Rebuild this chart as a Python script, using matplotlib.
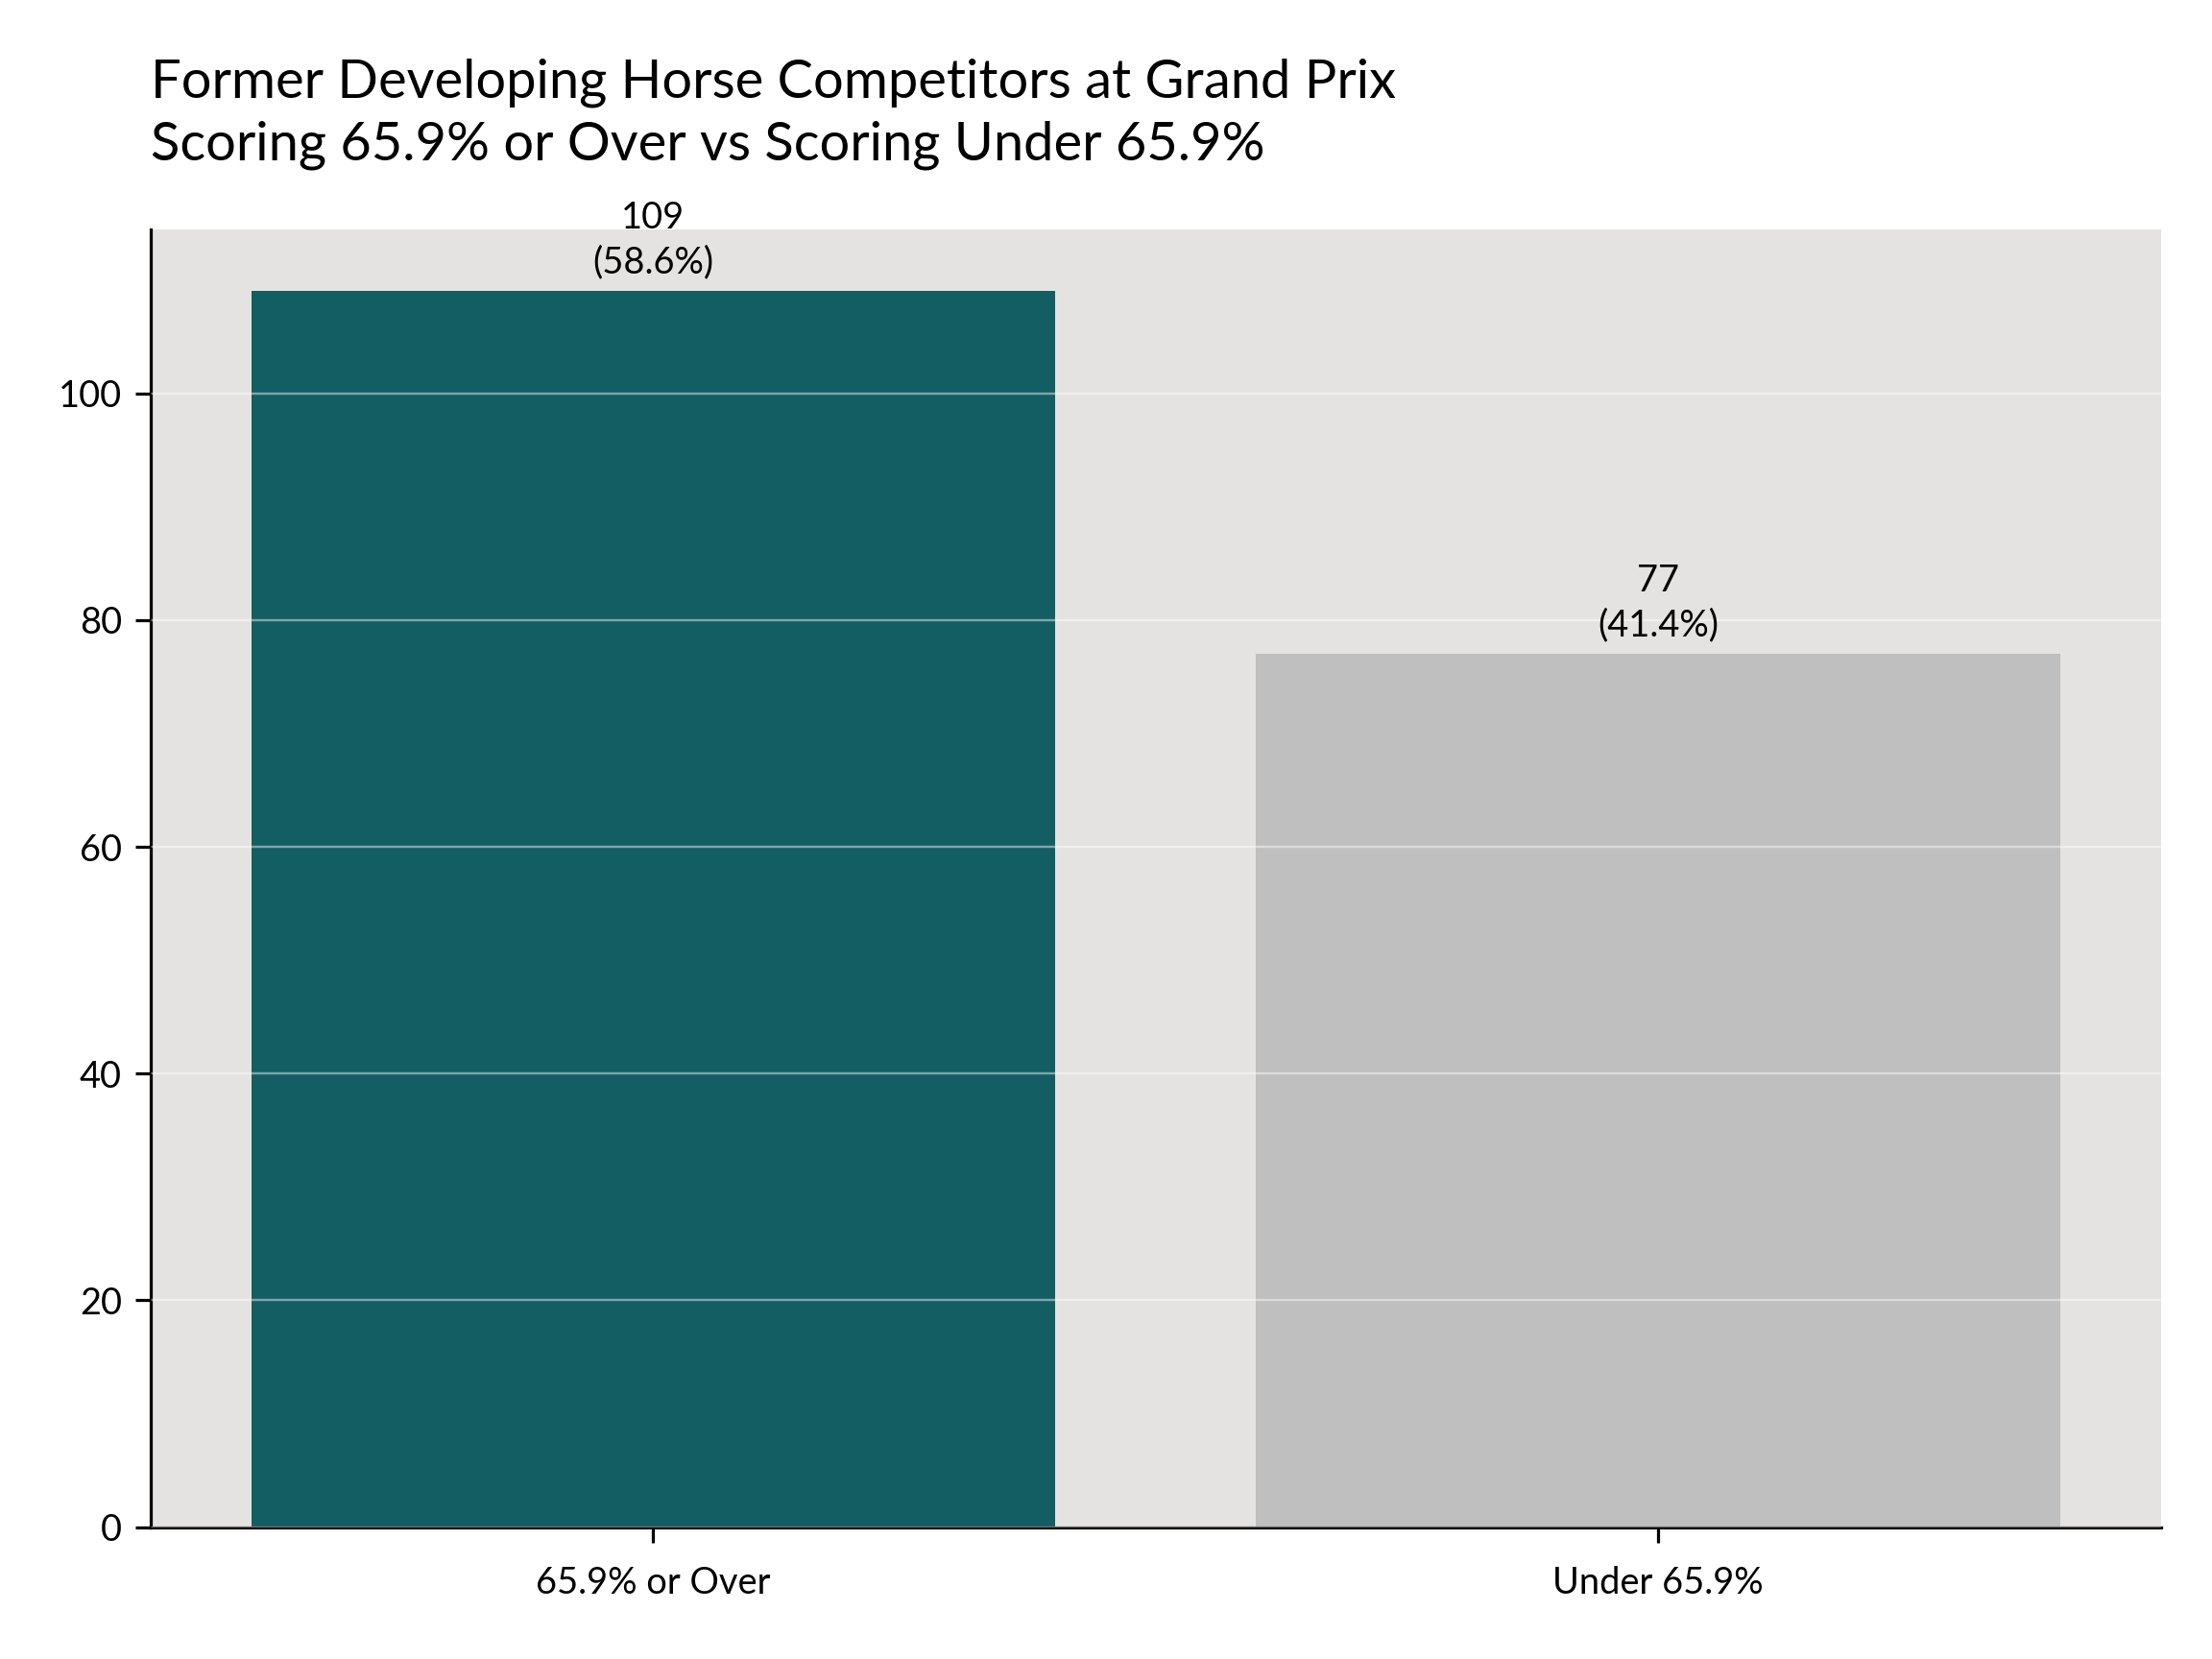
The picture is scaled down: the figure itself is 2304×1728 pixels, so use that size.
import matplotlib
matplotlib.use("Agg")
import matplotlib.pyplot as plt
import numpy as np

# Data
categories = ["65.9% or Over", "Under 65.9%"]
counts = [109, 77]
shares = [58.6, 41.4]
bar_colors = ["#135E63", "#BFBFBF"]

TITLE = ("Former Developing Horse Competitors at Grand Prix\n"
         "Scoring 65.9% or Over vs Scoring Under 65.9%")

plt.rcParams["font.family"] = ["Lato", "DejaVu Sans"]

fig = plt.figure(figsize=(8, 6), dpi=288)
ax = fig.add_axes([0.0681, 0.0795, 0.9087, 0.7822])
ax.set_facecolor("#E4E3E1")

x = np.arange(len(categories))
bars = ax.bar(x, counts, width=0.8, color=bar_colors, zorder=1)

ax.set_axisbelow(False)
ax.yaxis.grid(True, color="white", alpha=0.45, linewidth=0.6, zorder=2)
ax.xaxis.grid(False)

for b, n, s in zip(bars, counts, shares):
    ax.annotate(f"{n}\n({s}%)",
                xy=(b.get_x() + b.get_width() / 2, b.get_height()),
                xytext=(0, 3), textcoords="offset points",
                ha="center", va="bottom", fontsize=9.5, linespacing=1.35,
                zorder=3)

ax.set_xlim(-0.5, 1.5)
ax.set_ylim(0, max(counts) * 1.05)
ax.set_yticks(np.arange(0, 101, 20))
ax.set_xticks(x)
ax.set_xticklabels(categories)
ax.tick_params(axis="both", labelsize=9.5, length=4, width=0.8)
ax.tick_params(axis="x", pad=6)

for side in ("top", "right"):
    ax.spines[side].set_visible(False)
for side in ("left", "bottom"):
    ax.spines[side].set_linewidth(0.8)
    ax.spines[side].set_color("black")

ax.set_title(TITLE, loc="left", fontsize=14, pad=18, linespacing=1.35)

fig.savefig("out.png", dpi=288)
plt.close(fig)
